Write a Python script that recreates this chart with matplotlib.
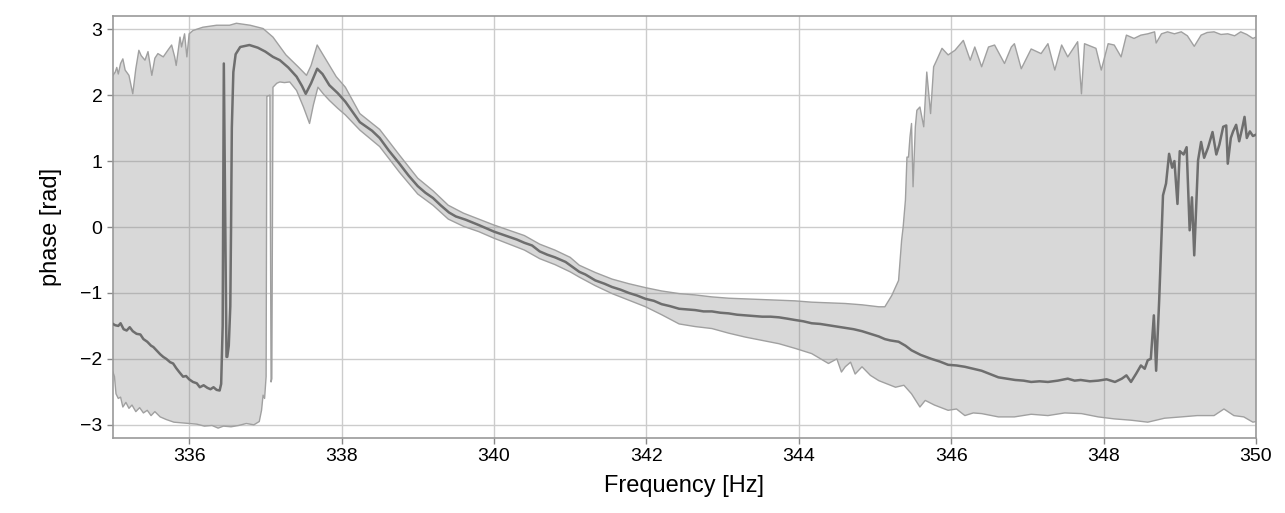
import numpy as np
import matplotlib
matplotlib.use("Agg")
import matplotlib.pyplot as plt

plt.rcParams['font.family'] = ['Liberation Sans', 'DejaVu Sans']

# fase media
freq_mean = [335.00, 335.03, 335.07, 335.10, 335.14, 335.18, 335.22, 335.26, 335.31, 335.36,
             335.40, 335.45, 335.50, 335.53, 335.58, 335.62, 335.66, 335.70, 335.75, 335.79,
             335.83, 335.87, 335.92, 335.96, 336.00, 336.05, 336.10, 336.14, 336.19, 336.24,
             336.28, 336.32, 336.36, 336.40, 336.42, 336.44, 336.455, 336.47, 336.49, 336.50,
             336.52, 336.54, 336.55, 336.56, 336.58, 336.61, 336.67, 336.79, 336.90, 337.00,
             337.10, 337.19, 337.30, 337.41, 337.48, 337.53, 337.60, 337.68, 337.75, 337.84,
             337.95, 338.05, 338.24, 338.40, 338.50, 338.62, 338.76, 338.88, 339.00, 339.10,
             339.20, 339.30, 339.41, 339.50, 339.63, 339.80, 340.00, 340.10, 340.20, 340.30,
             340.40, 340.50, 340.60, 340.70, 340.80, 340.94, 341.00, 341.12, 341.20, 341.33,
             341.45, 341.55, 341.66, 341.77, 341.88, 341.99, 342.10, 342.20, 342.31, 342.43,
             342.54, 342.64, 342.75, 342.86, 342.97, 343.08, 343.19, 343.30, 343.41, 343.52,
             343.63, 343.74, 343.85, 343.95, 344.06, 344.17, 344.28, 344.39, 344.50, 344.61,
             344.72, 344.83, 344.94, 345.05, 345.13, 345.20, 345.31, 345.40, 345.48, 345.60,
             345.74, 345.85, 345.96, 346.07, 346.18, 346.29, 346.40, 346.51, 346.62, 346.73,
             346.84, 346.95, 347.05, 347.16, 347.27, 347.40, 347.53, 347.62, 347.70, 347.82,
             347.93, 348.04, 348.15, 348.24, 348.30, 348.36, 348.43, 348.49, 348.54, 348.58,
             348.62, 348.66, 348.69, 348.73, 348.78, 348.82, 348.86, 348.90, 348.93, 348.97,
             349.00, 349.05, 349.09, 349.13, 349.16, 349.19, 349.24, 349.28, 349.32, 349.37,
             349.43, 349.48, 349.52, 349.57, 349.61, 349.63, 349.67, 349.70, 349.74, 349.78,
             349.82, 349.85, 349.88, 349.92, 349.96, 350.00]
phase_mean = [-1.47, -1.49, -1.50, -1.46, -1.55, -1.57, -1.52, -1.58, -1.62, -1.63,
              -1.70, -1.74, -1.80, -1.82, -1.88, -1.93, -1.97, -2.00, -2.05, -2.07,
              -2.14, -2.20, -2.27, -2.26, -2.31, -2.35, -2.37, -2.43, -2.40, -2.44,
              -2.46, -2.43, -2.47, -2.48, -2.38, -1.50, 2.48, 0.50, -1.97, -1.97,
              -1.80, -1.20, 0.00, 1.50, 2.35, 2.62, 2.73, 2.76, 2.72, 2.66,
              2.58, 2.53, 2.42, 2.28, 2.14, 2.02, 2.18, 2.40, 2.32, 2.15,
              2.03, 1.90, 1.59, 1.46, 1.35, 1.16, 0.96, 0.78, 0.62, 0.52,
              0.44, 0.33, 0.22, 0.16, 0.11, 0.03, -0.07, -0.11, -0.15, -0.19,
              -0.24, -0.28, -0.37, -0.42, -0.46, -0.53, -0.58, -0.68, -0.72, -0.81,
              -0.86, -0.91, -0.95, -1.00, -1.04, -1.09, -1.12, -1.17, -1.20, -1.24,
              -1.25, -1.26, -1.28, -1.28, -1.30, -1.31, -1.33, -1.34, -1.35, -1.36,
              -1.36, -1.37, -1.39, -1.41, -1.43, -1.46, -1.47, -1.49, -1.51, -1.53,
              -1.55, -1.58, -1.62, -1.66, -1.70, -1.72, -1.74, -1.80, -1.87, -1.94,
              -2.00, -2.04, -2.09, -2.10, -2.12, -2.15, -2.18, -2.23, -2.28, -2.30,
              -2.32, -2.33, -2.35, -2.34, -2.35, -2.33, -2.30, -2.33, -2.32, -2.34,
              -2.33, -2.31, -2.35, -2.30, -2.25, -2.35, -2.22, -2.10, -2.15, -2.02,
              -2.00, -1.34, -2.18, -1.11, 0.48, 0.66, 1.11, 0.90, 1.00, 0.35,
              1.15, 1.10, 1.21, -0.05, 0.45, -0.43, 1.01, 1.29, 1.05, 1.20,
              1.44, 1.10, 1.25, 1.52, 1.54, 0.96, 1.35, 1.45, 1.55, 1.30,
              1.50, 1.67, 1.35, 1.45, 1.38, 1.40]

# limite superior da banda
freq_upper = [335.00, 335.03, 335.05, 335.07, 335.10, 335.13, 335.16, 335.21, 335.26, 335.30,
              335.34, 335.37, 335.42, 335.46, 335.51, 335.55, 335.59, 335.66, 335.72, 335.77,
              335.81, 335.83, 335.88, 335.90, 335.94, 335.97, 336.00, 336.05, 336.18, 336.36,
              336.53, 336.62, 336.80, 336.97, 337.10, 337.27, 337.43, 337.54, 337.60, 337.68,
              337.80, 337.93, 338.05, 338.24, 338.50, 338.76, 339.00, 339.20, 339.40, 339.60,
              339.80, 340.00, 340.20, 340.40, 340.60, 340.80, 341.00, 341.12, 341.33, 341.55,
              341.77, 341.99, 342.20, 342.43, 342.64, 342.86, 343.08, 343.30, 343.52, 343.74,
              343.95, 344.17, 344.39, 344.61, 344.83, 345.05, 345.13, 345.22, 345.31, 345.35,
              345.37, 345.40, 345.42, 345.44, 345.46, 345.48, 345.50, 345.53, 345.55, 345.59,
              345.64, 345.68, 345.73, 345.77, 345.81, 345.88, 345.96, 346.05, 346.16, 346.25,
              346.31, 346.40, 346.49, 346.57, 346.70, 346.79, 346.83, 346.92, 347.05, 347.18,
              347.27, 347.36, 347.45, 347.53, 347.66, 347.71, 347.75, 347.90, 347.97, 348.06,
              348.14, 348.23, 348.30, 348.40, 348.49, 348.58, 348.67, 348.69, 348.76, 348.84,
              348.93, 349.02, 349.10, 349.19, 349.28, 349.36, 349.45, 349.54, 349.63, 349.72,
              349.80, 349.88, 349.96, 350.00]
phase_upper = [2.30, 2.35, 2.42, 2.32, 2.48, 2.55, 2.38, 2.30, 2.02, 2.40,
               2.68, 2.60, 2.53, 2.66, 2.30, 2.56, 2.63, 2.58, 2.68, 2.76,
               2.58, 2.45, 2.88, 2.73, 2.93, 2.58, 2.93, 2.98, 3.03, 3.06,
               3.06, 3.09, 3.06, 3.01, 2.88, 2.61, 2.43, 2.30, 2.45, 2.76,
               2.53, 2.28, 2.12, 1.72, 1.48, 1.09, 0.74, 0.55, 0.33, 0.21,
               0.12, 0.03, -0.05, -0.13, -0.26, -0.35, -0.46, -0.58, -0.69, -0.79,
               -0.86, -0.92, -0.97, -1.01, -1.03, -1.06, -1.08, -1.09, -1.10, -1.11,
               -1.12, -1.14, -1.15, -1.16, -1.18, -1.21, -1.21, -1.04, -0.81, -0.20,
               0.00, 0.41, 1.06, 1.06, 1.37, 1.57, 0.61, 1.52, 1.77, 1.82,
               1.52, 2.35, 1.72, 2.43, 2.53, 2.71, 2.61, 2.68, 2.83, 2.53,
               2.73, 2.43, 2.73, 2.76, 2.48, 2.73, 2.78, 2.40, 2.70, 2.63,
               2.78, 2.38, 2.76, 2.58, 2.81, 2.02, 2.78, 2.71, 2.38, 2.78,
               2.76, 2.58, 2.91, 2.86, 2.91, 2.93, 2.96, 2.79, 2.93, 2.96,
               2.93, 2.96, 2.90, 2.74, 2.91, 2.95, 2.96, 2.92, 2.93, 2.90,
               2.96, 2.92, 2.86, 2.88]

# limite inferior da banda
freq_lower = [335.00, 335.02, 335.04, 335.07, 335.10, 335.13, 335.17, 335.21, 335.25, 335.30,
              335.35, 335.40, 335.45, 335.50, 335.55, 335.62, 335.70, 335.80, 335.90, 336.00,
              336.10, 336.20, 336.30, 336.38, 336.45, 336.55, 336.65, 336.75, 336.85, 336.92,
              336.95, 336.97, 336.99, 337.01, 337.02, 337.06, 337.075, 337.085, 337.10, 337.15,
              337.19, 337.25, 337.32, 337.41, 337.50, 337.58, 337.63, 337.69, 337.76, 337.84,
              337.95, 338.05, 338.24, 338.50, 338.76, 339.00, 339.20, 339.40, 339.60, 339.80,
              340.00, 340.20, 340.40, 340.60, 340.80, 341.00, 341.12, 341.33, 341.55, 341.77,
              341.99, 342.20, 342.43, 342.64, 342.86, 343.08, 343.30, 343.52, 343.74, 343.95,
              344.17, 344.39, 344.50, 344.56, 344.61, 344.68, 344.74, 344.83, 344.94, 345.05,
              345.16, 345.27, 345.38, 345.48, 345.59, 345.66, 345.78, 345.96, 346.07, 346.18,
              346.29, 346.40, 346.62, 346.83, 347.05, 347.27, 347.49, 347.71, 347.93, 348.14,
              348.36, 348.58, 348.80, 349.02, 349.23, 349.45, 349.58, 349.71, 349.84, 349.96,
              350.00]
phase_lower = [-2.20, -2.27, -2.53, -2.60, -2.58, -2.73, -2.66, -2.75, -2.70, -2.80,
               -2.74, -2.82, -2.78, -2.86, -2.80, -2.88, -2.92, -2.96, -2.97, -2.98,
               -2.99, -3.02, -3.01, -3.05, -3.02, -3.03, -3.01, -2.98, -3.00, -2.95,
               -2.78, -2.55, -2.60, -2.27, 1.98, 2.00, -2.35, -2.30, 2.12, 2.18,
               2.20, 2.19, 2.20, 2.07, 1.82, 1.57, 1.85, 2.12, 2.02, 1.92,
               1.80, 1.70, 1.47, 1.22, 0.83, 0.50, 0.33, 0.12, 0.01, -0.07,
               -0.17, -0.26, -0.35, -0.48, -0.57, -0.68, -0.76, -0.89, -1.01, -1.11,
               -1.21, -1.33, -1.47, -1.51, -1.54, -1.61, -1.67, -1.72, -1.77, -1.84,
               -1.92, -2.07, -2.00, -2.20, -2.12, -2.05, -2.23, -2.12, -2.25, -2.33,
               -2.38, -2.43, -2.40, -2.53, -2.73, -2.63, -2.70, -2.78, -2.76, -2.86,
               -2.82, -2.83, -2.88, -2.88, -2.84, -2.86, -2.82, -2.83, -2.88, -2.91,
               -2.93, -2.96, -2.90, -2.88, -2.86, -2.86, -2.76, -2.86, -2.88, -2.96,
               -2.95]

fig = plt.figure(figsize=(12.85, 5.13), dpi=100)
ax = fig.add_axes([0.0879, 0.1462, 0.8895, 0.8226])

ax.grid(True, color="#cccccc", lw=1.0, zorder=0)
ax.set_axisbelow(True)

# banda: poligono superior + inferior invertido
poly_x = np.concatenate([freq_upper, freq_lower[::-1]])
poly_y = np.concatenate([phase_upper, phase_lower[::-1]])
ax.fill(poly_x, poly_y, color="0.5", alpha=0.3, lw=0, zorder=1)
ax.plot(freq_upper, phase_upper, color="#a0a0a0", lw=1.0, zorder=2)
ax.plot(freq_lower, phase_lower, color="#a0a0a0", lw=1.0, zorder=2)
ax.plot(freq_mean, phase_mean, color="#6e6e6e", lw=1.8, zorder=3)

ax.set_xlim(335, 350)
ax.set_ylim(-3.2, 3.2)
ax.set_xticks(np.arange(336, 351, 2))
ax.set_yticks(np.arange(-3, 4, 1))
ax.tick_params(labelsize=14, color="#888888", length=4, width=1)
for s in ax.spines.values():
    s.set_color("#999999")
    s.set_linewidth(1.2)

ax.set_xlabel("Frequency [Hz]", fontsize=17, labelpad=7)
ax.set_ylabel("phase [rad]", fontsize=17, labelpad=13)

fig.savefig("out.png", dpi=100)
